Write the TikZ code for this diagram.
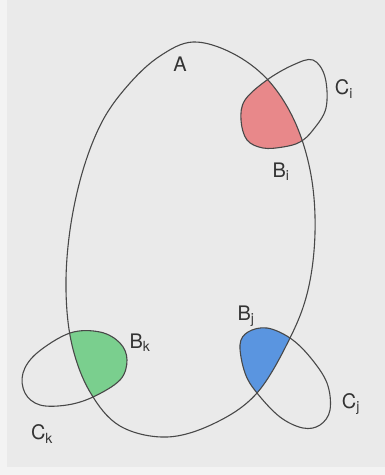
\documentclass[tikz,border=0pt]{standalone}
\usepackage{fontspec}
\setsansfont{TeX Gyre Heros}
\definecolor{paper}{HTML}{EAEAEA}
\definecolor{paperlight}{HTML}{F3F3F3}
\definecolor{pencil}{HTML}{484848}
\definecolor{redfill}{HTML}{E8888A}
\definecolor{greenfill}{HTML}{7ACF8E}
\definecolor{bluefill}{HTML}{5A95E0}
\newcommand\Apath{plot[smooth cycle,tension=0.6] coordinates {(193,42) (232,53) (268,80) (295,122) (311,175) (315,233) (308,290) (290,338) (257,393) (215,423) (167,437) (120,426) (90,392) (72,345) (66,290) (70,230) (83,170) (103,120) (130,83) (160,56)}}
\newcommand\Cipath{plot[smooth cycle,tension=0.6] coordinates {(267,80) (293,65) (313,60) (325,77) (326,108) (313,130) (300,142) (283,147) (263,148) (247,140) (241,120) (245,100)}}
\newcommand\Ckpath{plot[smooth cycle,tension=0.6] coordinates {(70,333) (100,332) (120,343) (127,360) (120,380) (93,397) (67,405) (40,405) (25,393) (23,373) (37,353)}}
\newcommand\Cjpath{plot[smooth cycle,tension=0.6] coordinates {(240,345) (248,332) (267,328) (290,338) (310,357) (327,383) (330,410) (320,425) (303,428) (280,417) (257,393) (245,373)}}
\tikzset{
  curve/.style={draw=pencil,line width=1.1pt,line join=round},
  lbl/.style={text=black!80,font=\sffamily\fontsize{20}{22}\selectfont,inner sep=0pt}
}
\begin{document}
\begin{tikzpicture}[x=1pt,y=-1pt]
\fill[paper] (0,0) rectangle (385,475);
\fill[paperlight] (0,0) rectangle (7,475);
\fill[paperlight] (0,467) rectangle (385,475);
\useasboundingbox (0,0) rectangle (385,475);
% coloured intersections
\begin{scope}
  \clip \Apath;
  \fill[redfill] \Cipath;
  \fill[greenfill] \Ckpath;
  \fill[bluefill] \Cjpath;
\end{scope}
% outlines
\draw[curve] \Apath;
\draw[curve] \Cipath;
\draw[curve] \Ckpath;
\draw[curve] \Cjpath;
% labels
\node[lbl] (A) at (180,64) {A};
\node[lbl] (Ci) at (344,89) {C\textsubscript{i}};
\node[lbl] (Bi) at (281,172) {B\textsubscript{i}};
\node[lbl] (Bj) at (246,316) {B\textsubscript{j}};
\node[lbl] (Bk) at (140,343) {B\textsubscript{k}};
\node[lbl] (Cj) at (351,404) {C\textsubscript{j}};
\node[lbl] (Ck) at (42,434) {C\textsubscript{k}};
\end{tikzpicture}
\end{document}
